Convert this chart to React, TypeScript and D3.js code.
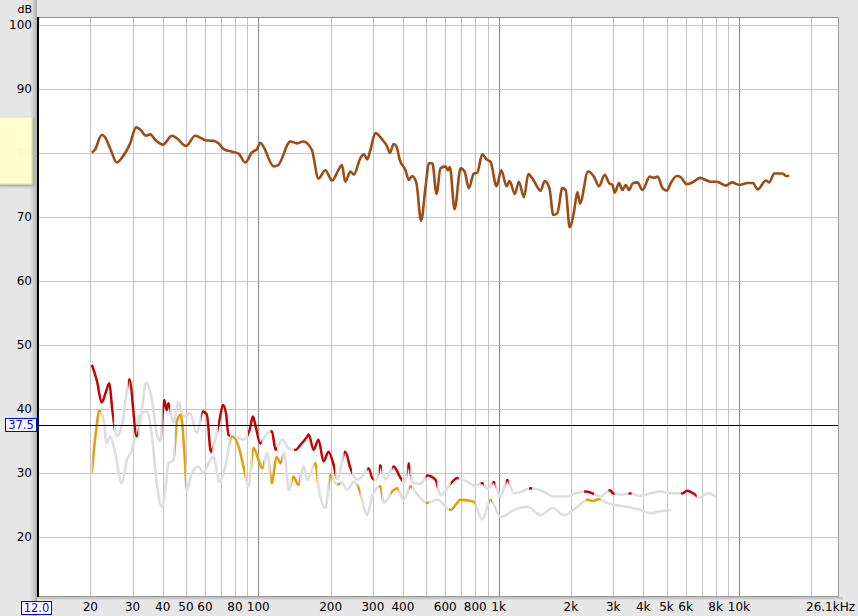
import React from "react";
import * as d3 from "d3";

const W = 858;
const H = 616;
const PLOT = { left: 37, right: 839, top: 17, bottom: 597 };
const FREQ_MIN = 12.0;
const FREQ_MAX = 26100;
const DB_MIN = 10.6;
const DB_MAX = 101.25;

// frequency response (Hz, dB)
const splFreq = [20.3, 20.9, 22.3, 23.0, 24.2, 25.8, 27.0, 29.3, 31.0, 32.2, 34.1, 35.5, 37.2, 40.1, 43.7, 45.8, 50.1, 54.6, 57.3, 60.1, 65.1, 68.3, 71.7, 77.7, 82.8, 88.3, 94.1, 98.8, 102, 105, 116, 121, 136, 145, 154, 167, 178, 190, 203, 216, 223, 230, 242, 250, 266, 275, 284, 293, 307, 328, 344, 353, 366, 376, 388, 410, 423, 437, 455, 476, 497, 513, 530, 552, 573, 602, 615, 627, 656, 695, 722, 752, 789, 815, 855, 891, 926, 981, 1026, 1080, 1111, 1169, 1215, 1275, 1330, 1395, 1496, 1555, 1627, 1690, 1756, 1843, 1902, 1976, 2060, 2128, 2182, 2356, 2495, 2617, 2766, 2882, 2978, 3043, 3172, 3277, 3382, 3491, 3607, 3784, 3970, 4258, 4437, 4597, 4810, 5012, 5210, 5518, 5733, 5918, 6073, 6477, 6902, 7150, 7643, 8097, 8827, 9350, 10030, 10870, 11440, 11970, 12960, 13380, 14030, 15210, 15700, 16200];
const splLevel = [80.05, 80.5, 82.8, 82.5, 80.7, 78.5, 79.2, 81.5, 84.0, 83.7, 82.7, 82.9, 82.1, 81.3, 82.7, 82.3, 81.1, 82.7, 82.4, 82.0, 81.9, 81.5, 80.6, 80.2, 79.9, 78.5, 80.1, 80.6, 81.6, 81.0, 77.9, 78.1, 81.8, 81.5, 81.8, 80.5, 76.0, 77.3, 75.7, 77.4, 78.1, 75.5, 77.1, 76.6, 79.2, 79.8, 79.0, 80.5, 83.1, 82.1, 81.0, 80.0, 81.4, 81.0, 78.9, 77.3, 75.8, 76.4, 75.3, 69.4, 74.8, 78.4, 78.4, 73.6, 77.6, 77.9, 77.3, 77.8, 71.2, 77.6, 77.1, 74.5, 76.8, 76.9, 79.8, 79.0, 78.6, 74.8, 77.3, 74.8, 75.6, 73.6, 75.5, 73.1, 76.7, 75.8, 74.1, 75.6, 74.5, 70.3, 70.6, 74.5, 74.2, 68.4, 70.8, 73.9, 72.1, 77.1, 76.3, 74.8, 76.6, 75.3, 75.0, 73.8, 75.3, 74.2, 75.0, 74.2, 75.2, 75.4, 74.2, 76.3, 76.1, 76.3, 74.5, 74.1, 75.3, 76.4, 76.2, 75.5, 75.1, 75.5, 76.1, 75.9, 75.5, 75.5, 74.9, 75.4, 75.0, 75.3, 75.3, 74.3, 75.7, 75.4, 76.8, 76.8, 76.4, 76.4];

// 2nd harmonic (Hz, dB, 1 = above noise)
const h2Freq = [20.3, 21.3, 22.3, 23.2, 24.0, 24.7, 25.8, 27.1, 29.1, 31.2, 32.8, 34.1, 36.1, 37.8, 39.1, 40.6, 41.6, 42.3, 44.4, 46.5, 48.8, 52.1, 55.5, 58.8, 61.1, 63.5, 66.2, 69.0, 71.3, 73.4, 75.2, 78.9, 86.8, 92.0, 95.0, 97.2, 102, 107, 114, 118, 126, 134, 143, 150, 160, 162, 170, 178, 187, 196, 206, 213, 230, 242, 258, 271, 288, 298, 310, 322, 338, 366, 391, 406, 423, 438, 473, 505, 547, 573, 641, 673, 741, 794, 855, 900, 956, 1019, 1087, 1158, 1235, 1359, 1496, 1700, 1934, 2094, 2304, 2457, 2661, 2909, 2995, 3223, 3525, 3906, 4299, 4732, 5210, 5828, 6072, 6576, 6834, 7406, 8022];
const h2Level = [46.9, 44.4, 41.0, 42.6, 44.0, 39.8, 35.7, 37.5, 44.6, 35.7, 39.8, 44.1, 41.4, 36.2, 34.9, 41.4, 39.8, 40.9, 37.8, 41.1, 38.8, 39.3, 36.2, 39.6, 39.1, 33.3, 35.2, 38.3, 40.6, 39.3, 35.9, 35.7, 35.2, 36.7, 38.8, 37.5, 34.6, 35.9, 36.5, 33.6, 35.2, 33.8, 33.6, 34.4, 35.7, 36.0, 33.6, 35.2, 31.8, 33.3, 31.2, 29.0, 33.3, 30.7, 28.9, 29.5, 30.7, 29.2, 28.8, 31.2, 29.0, 31.0, 29.2, 28.5, 31.5, 28.5, 28.3, 29.6, 28.9, 26.5, 28.6, 29.2, 28.6, 28.0, 28.4, 27.5, 28.6, 26.3, 28.9, 26.8, 27.0, 27.6, 27.3, 26.3, 26.3, 26.8, 27.1, 26.8, 26.3, 27.3, 26.8, 26.6, 26.8, 26.4, 26.8, 27.1, 26.8, 26.8, 27.2, 26.6, 26.1, 26.8, 26.3];
const h2Mark = [1, 1, 1, 1, 1, 1, 0, 0, 1, 1, 0, 0, 0, 0, 0, 1, 1, 1, 0, 0, 0, 0, 0, 1, 1, 1, 0, 1, 1, 1, 1, 0, 0, 1, 1, 1, 1, 0, 1, 1, 0, 0, 1, 1, 1, 1, 1, 1, 1, 1, 1, 0, 1, 1, 0, 0, 1, 1, 0, 1, 0, 1, 1, 0, 1, 0, 0, 1, 1, 0, 1, 1, 0, 0, 1, 0, 1, 0, 1, 0, 0, 1, 0, 0, 0, 0, 1, 1, 0, 1, 1, 0, 1, 0, 0, 0, 0, 1, 1, 1, 0, 0, 0];

// 3rd harmonic (Hz, dB, 1 = above noise)
const h3Freq = [20.3, 20.7, 21.2, 21.8, 22.7, 23.4, 24.2, 25.4, 27.0, 28.4, 29.8, 32.2, 34.4, 36.1, 37.8, 39.7, 41.0, 42.3, 44.4, 45.8, 47.6, 49.2, 50.5, 52.9, 56.4, 59.2, 62.1, 65.1, 69.0, 72.9, 77.7, 82.8, 86.8, 91.1, 95.6, 100.3, 104, 109, 114, 119, 124, 128, 134, 140, 147, 154, 160, 173, 178, 190, 200, 209, 216, 223, 234, 250, 262, 284, 298, 322, 333, 361, 378, 403, 430, 451, 505, 556, 631, 695, 789, 855, 926, 1019, 1158, 1317, 1496, 1679, 1872, 2128, 2342, 2464, 2617, 2838, 3023, 3439, 3906, 4299, 4732, 5210];
const h3Level = [30.0, 33.6, 37.0, 39.8, 38.3, 34.6, 35.7, 33.0, 28.4, 32.0, 33.6, 39.1, 39.6, 35.7, 28.4, 24.7, 27.3, 31.5, 32.0, 38.0, 39.1, 33.6, 27.3, 30.0, 31.0, 30.0, 31.5, 32.5, 28.6, 31.0, 35.7, 34.1, 31.0, 27.9, 33.9, 32.0, 30.7, 33.1, 28.4, 32.5, 31.5, 33.1, 27.3, 29.4, 28.1, 31.0, 28.9, 31.5, 27.9, 24.5, 29.7, 28.4, 28.2, 28.5, 27.3, 28.6, 27.6, 23.4, 26.3, 27.9, 25.3, 27.1, 27.6, 25.8, 27.9, 27.0, 25.3, 25.8, 24.2, 25.8, 25.5, 22.7, 25.8, 23.1, 24.2, 24.7, 23.4, 24.5, 23.4, 24.7, 25.8, 25.6, 25.9, 25.3, 25.0, 24.7, 24.2, 23.7, 24.0, 24.2];
const h3Mark = [0, 1, 1, 1, 0, 0, 0, 0, 0, 0, 0, 0, 0, 0, 0, 0, 0, 0, 0, 1, 1, 1, 0, 0, 0, 0, 0, 0, 0, 0, 1, 1, 1, 0, 1, 1, 1, 0, 1, 1, 1, 0, 0, 1, 1, 0, 0, 1, 0, 0, 1, 0, 1, 0, 0, 0, 1, 0, 0, 1, 0, 1, 1, 0, 1, 0, 1, 0, 1, 1, 1, 0, 1, 0, 0, 0, 0, 0, 0, 0, 1, 1, 1, 0, 0, 0, 0, 0, 0, 0];

const xLabels = [20, 30, 40, 50, 60, 80, 100, 200, 300, 400, 600, 800, 1000, 2000, 3000, 4000, 5000, 6000, 8000, 10000];
const yLabels = [20, 30, 40, 50, 60, 70, 80, 90, 100];
const cursorLevel = 37.5;

const FONT = "DejaVu Sans, Verdana, sans-serif";

const fmtFreq = (f: number) => (f >= 1000 ? `${f / 1000}k` : `${f}`);

function markRuns(freq: number[], mark: number[]) {
  const out: [number, number][] = [];
  let i = 0;
  while (i < freq.length) {
    if (mark[i]) {
      let j = i;
      while (j + 1 < freq.length && mark[j + 1]) j++;
      out.push([freq[i], freq[j]]);
      i = j + 1;
    } else i++;
  }
  return out;
}

export default function App() {
  const x = d3.scaleLog().domain([FREQ_MIN, FREQ_MAX]).range([PLOT.left, PLOT.right]);
  const y = d3.scaleLinear().domain([DB_MIN, DB_MAX]).range([PLOT.bottom, PLOT.top]);

  const line = d3
    .line<[number, number]>()
    .x((d) => x(d[0]))
    .y((d) => y(d[1]))
    .curve(d3.curveMonotoneX);

  const splPath = line(splFreq.map((f, i) => [f, splLevel[i]])) || "";
  const h2Path = line(h2Freq.map((f, i) => [f, h2Level[i]])) || "";
  const h3Path = line(h3Freq.map((f, i) => [f, h3Level[i]])) || "";

  const gridFreqs: number[] = [];
  for (let dec = 10; dec <= 10000; dec *= 10) {
    for (let k = 1; k <= 9; k++) {
      const f = dec * k;
      if (f > FREQ_MIN && f < FREQ_MAX) gridFreqs.push(f);
    }
  }
  const decades = [100, 1000, 10000];

  const h2Runs = markRuns(h2Freq, h2Mark);
  const h3Runs = markRuns(h3Freq, h3Mark);

  return (
    <svg
      width={W}
      height={H}
      style={{ position: "absolute", left: 0, top: 0, display: "block" }}
      fontFamily={FONT}
    >
      <defs>
        <linearGradient id="leftShade" x1="0" x2="1" y1="0" y2="0">
          <stop offset="0" stopColor="#e6e6e6" stopOpacity="0" />
          <stop offset="1" stopColor="#a8a8a8" stopOpacity="1" />
        </linearGradient>
        <linearGradient id="bottomShade" x1="0" x2="0" y1="0" y2="1">
          <stop offset="0" stopColor="#b8b8b8" />
          <stop offset="1" stopColor="#e0e0e0" />
        </linearGradient>
        <clipPath id="plotClip">
          <rect x={PLOT.left} y={PLOT.top} width={PLOT.right - PLOT.left} height={PLOT.bottom - PLOT.top} />
        </clipPath>
        <clipPath id="h2Clip">
          {h2Runs.map(([a, b], i) => (
            <rect key={i} x={x(a) - 1.5} y={PLOT.top} width={x(b) - x(a) + 3} height={PLOT.bottom - PLOT.top} />
          ))}
        </clipPath>
        <clipPath id="h3Clip">
          {h3Runs.map(([a, b], i) => (
            <rect key={i} x={x(a) - 1.5} y={PLOT.top} width={x(b) - x(a) + 3} height={PLOT.bottom - PLOT.top} />
          ))}
        </clipPath>
        <filter id="noteShadow" x="-20%" y="-20%" width="150%" height="150%">
          <feDropShadow dx="1" dy="2" stdDeviation="1.5" floodColor="#000" floodOpacity="0.3" />
        </filter>
      </defs>

      {/* page background */}
      <rect x={0} y={0} width={W} height={H} fill="#e6e6e6" />
      <rect x={PLOT.left - 9} y={0} width={9} height={H} fill="url(#leftShade)" />
      <rect x={PLOT.left} y={PLOT.bottom} width={PLOT.right - PLOT.left + 4} height={3} fill="url(#bottomShade)" />

      {/* plot area */}
      <rect x={PLOT.left} y={PLOT.top} width={PLOT.right - PLOT.left} height={PLOT.bottom - PLOT.top} fill="#ffffff" />

      <g clipPath="url(#plotClip)">
        {gridFreqs.map((f) => (
          <line
            key={f}
            x1={Math.round(x(f)) + 0.5}
            x2={Math.round(x(f)) + 0.5}
            y1={PLOT.top}
            y2={PLOT.bottom}
            stroke={decades.includes(f) ? "#8a8a8a" : "#c4c4c4"}
            strokeWidth={1}
          />
        ))}
        {yLabels.map((v) => (
          <line
            key={v}
            x1={PLOT.left}
            x2={PLOT.right}
            y1={Math.round(y(v)) + 0.5}
            y2={Math.round(y(v)) + 0.5}
            stroke="#c4c4c4"
            strokeWidth={1}
          />
        ))}

        {/* harmonics: grey below noise, colour above */}
        <path d={h3Path} fill="none" stroke="#dedede" strokeWidth={2.6} strokeLinejoin="round" />
        <path d={h2Path} fill="none" stroke="#dedede" strokeWidth={2.6} strokeLinejoin="round" />
        <path d={h3Path} fill="none" stroke="#e89c00" strokeWidth={2.4} strokeLinejoin="round" clipPath="url(#h3Clip)" />
        <path d={h2Path} fill="none" stroke="#c40000" strokeWidth={2.4} strokeLinejoin="round" clipPath="url(#h2Clip)" />

        <path d={splPath} fill="none" stroke="#9e4c16" strokeWidth={2.6} strokeLinejoin="round" />

        <line
          x1={PLOT.left}
          x2={PLOT.right}
          y1={Math.round(y(cursorLevel)) + 0.5}
          y2={Math.round(y(cursorLevel)) + 0.5}
          stroke="#000"
          strokeWidth={1}
        />
      </g>

      {/* frame */}
      <line x1={PLOT.left} x2={PLOT.right} y1={PLOT.top + 0.5} y2={PLOT.top + 0.5} stroke="#8c8c8c" />
      <line x1={PLOT.right - 0.5} x2={PLOT.right - 0.5} y1={PLOT.top} y2={PLOT.bottom} stroke="#9a9a9a" />
      <line x1={PLOT.left} x2={PLOT.right} y1={PLOT.bottom - 0.5} y2={PLOT.bottom - 0.5} stroke="#9a9a9a" />
      <line x1={PLOT.left + 1} x2={PLOT.left + 1} y1={PLOT.top} y2={PLOT.bottom} stroke="#000" strokeWidth={2} />

      {/* y labels */}
      <text x={32} y={13} textAnchor="end" fontSize={11} fill="#000">
        dB
      </text>
      {yLabels.map((v) => (
        <text key={v} x={32} y={y(v) + 4} textAnchor="end" fontSize={12} fill="#000">
          {v}
        </text>
      ))}

      {/* x labels */}
      {xLabels.map((f) => (
        <text key={f} x={x(f)} y={611} textAnchor="middle" fontSize={12} fill="#000">
          {fmtFreq(f)}
        </text>
      ))}
      <text x={855} y={611} textAnchor="end" fontSize={12} fill="#000">
        26.1kHz
      </text>

      {/* editable range boxes */}
      <rect x={21.5} y={601.5} width={30} height={13} fill="#ffffff" stroke="#0000ff" strokeWidth={1} />
      <text x={36.5} y={612} textAnchor="middle" fontSize={11.5} fill="#0000ff">
        {FREQ_MIN.toFixed(1)}
      </text>
      <rect x={5.5} y={418.5} width={31} height={13} fill="#ffffff" stroke="#0000ff" strokeWidth={1} />
      <text x={21} y={429} textAnchor="middle" fontSize={11.5} fill="#0000ff">
        {cursorLevel.toFixed(1)}
      </text>

      {/* note box over the y axis */}
      <rect x={-2} y={117} width={34} height={67} fill="#ffffcc" fillOpacity={0.97} stroke="#e0e0b0" filter="url(#noteShadow)" />
    </svg>
  );
}
